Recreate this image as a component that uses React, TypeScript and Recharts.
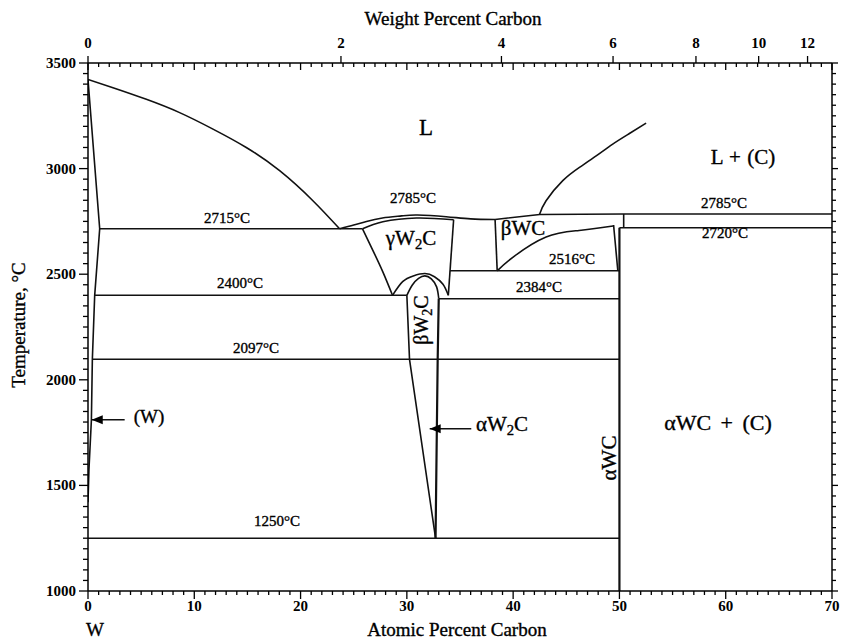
import React from 'react';
import { ComposedChart, Line, XAxis, YAxis } from 'recharts';

type Pt = { x: number; y: number };

const SERIF = '"Liberation Serif", "DejaVu Serif", serif';
const INK = '#111';

// x = atomic percent carbon, y = temperature in °C
const wLiquidus: Pt[] = [
  { x: 0, y: 3422 }, { x: 2.35, y: 3383 }, { x: 5.49, y: 3328 }, { x: 8.62, y: 3265 },
  { x: 11.76, y: 3187 }, { x: 14.89, y: 3100 }, { x: 18.03, y: 2990 }, { x: 21.16, y: 2848 },
  { x: 23.67, y: 2715 },
];
const wSolidus: Pt[] = [
  { x: 0, y: 3422 }, { x: 1.1, y: 2715 }, { x: 0.63, y: 2400 }, { x: 0.41, y: 2097 },
  { x: 0.32, y: 1811 }, { x: 0.09, y: 1575 }, { x: 0, y: 1420 },
];
const w2cLiquidus: Pt[] = [
  { x: 23.67, y: 2715 }, { x: 25, y: 2733 }, { x: 26.2, y: 2750 }, { x: 27.7, y: 2766 },
  { x: 29.5, y: 2776 }, { x: 31, y: 2780 }, { x: 33.7, y: 2772 }, { x: 36, y: 2762 },
  { x: 38.3, y: 2759 },
];
const wcTopLine: Pt[] = [
  { x: 38.3, y: 2759 }, { x: 42.5, y: 2783 }, { x: 50.4, y: 2785 }, { x: 70, y: 2785 },
];
const w2cSolidus: Pt[] = [
  { x: 25.83, y: 2715 }, { x: 27.74, y: 2748 }, { x: 30.9, y: 2766 }, { x: 34.4, y: 2758 },
];
const gammaLeft: Pt[] = [
  { x: 25.83, y: 2715 }, { x: 26.8, y: 2613 }, { x: 27.74, y: 2511 }, { x: 28.65, y: 2400 },
];
const gammaRight: Pt[] = [{ x: 34.4, y: 2758 }, { x: 33.9, y: 2400 }];
const betaArchOuter: Pt[] = [
  { x: 28.65, y: 2400 }, { x: 29.6, y: 2465 }, { x: 30.6, y: 2492 }, { x: 31.7, y: 2503 },
  { x: 32.6, y: 2488 }, { x: 33.4, y: 2452 }, { x: 33.9, y: 2400 },
];
const betaArchInner: Pt[] = [
  { x: 30.0, y: 2400 }, { x: 30.5, y: 2448 }, { x: 31.1, y: 2480 }, { x: 31.7, y: 2492 },
  { x: 32.3, y: 2478 }, { x: 32.8, y: 2440 }, { x: 33.0, y: 2385 },
];
const w2cLeft: Pt[] = [{ x: 30.0, y: 2400 }, { x: 30.25, y: 2097 }, { x: 32.7, y: 1250 }];
const w2cRight: Pt[] = [{ x: 33.0, y: 2385 }, { x: 32.9, y: 2097 }, { x: 32.7, y: 1250 }];
const betaWcLeft: Pt[] = [{ x: 38.3, y: 2759 }, { x: 38.5, y: 2516 }];
const betaWcLower: Pt[] = [
  { x: 38.5, y: 2516 }, { x: 40, y: 2581 }, { x: 43.1, y: 2676 }, { x: 46.2, y: 2707 },
  { x: 49.4, y: 2728 },
];
const betaWcRight: Pt[] = [{ x: 49.45, y: 2733 }, { x: 49.85, y: 2516 }];
const wcLine: Pt[] = [{ x: 50, y: 2720 }, { x: 50, y: 1000 }];
const wcStep: Pt[] = [{ x: 50.4, y: 2720 }, { x: 50.4, y: 2785 }];
const cLiquidus: Pt[] = [
  { x: 42.48, y: 2783 }, { x: 43.1, y: 2848 }, { x: 44.67, y: 2943 }, { x: 46.24, y: 3006 },
  { x: 47.81, y: 3060 }, { x: 49.37, y: 3116 }, { x: 50.94, y: 3166 }, { x: 52.51, y: 3215 },
];

// isotherms: temperature, start and end composition
const isoTemps = [2715, 2400, 2384, 2097, 1250, 2516, 2720];
const isoFrom = [1.1, 0.63, 33.0, 0.41, 0, 34.06, 50];
const isoTo = [25.83, 30.0, 50, 50, 50, 50, 70];

// arrows pointing at (W) and αW2C
const wArrow: Pt[] = [{ x: 3.45, y: 1811 }, { x: 0.35, y: 1811 }];
const w2cArrow: Pt[] = [{ x: 36.06, y: 1768 }, { x: 32.15, y: 1768 }];

// axes
const tempMajor = [1000, 1500, 2000, 2500, 3000, 3500];
const tempTicks = Array.from({ length: 51 }, (_, i) => 1000 + i * 50);
const atomicMajor = [0, 10, 20, 30, 40, 50, 60, 70];
const atomicTicks = Array.from({ length: 71 }, (_, i) => i);
const weightLabels = [0, 2, 4, 6, 8, 10, 12];
const weightAt = [0, 23.8, 38.9, 49.4, 57.2, 63.1, 67.7];
const topTicks = [...atomicTicks, ...weightAt.slice(1)].sort((a, b) => a - b);

const boundaries: { pts: Pt[]; curve: 'linear' | 'natural'; w?: number }[] = [
  { pts: wLiquidus, curve: 'natural' },
  { pts: wSolidus, curve: 'linear' },
  { pts: w2cLiquidus, curve: 'natural' },
  { pts: wcTopLine, curve: 'linear' },
  { pts: w2cSolidus, curve: 'natural' },
  { pts: gammaLeft, curve: 'natural' },
  { pts: gammaRight, curve: 'linear' },
  { pts: betaArchOuter, curve: 'natural' },
  { pts: betaArchInner, curve: 'natural' },
  { pts: w2cLeft, curve: 'linear' },
  { pts: w2cRight, curve: 'linear', w: 2.2 },
  { pts: betaWcLeft, curve: 'linear' },
  { pts: betaWcLower, curve: 'natural' },
  { pts: betaWcRight, curve: 'linear' },
  { pts: wcLine, curve: 'linear', w: 2.2 },
  { pts: wcStep, curve: 'linear' },
  { pts: cLiquidus, curve: 'natural' },
  ...isoTemps.map((t, i) => ({
    pts: [{ x: isoFrom[i], y: t }, { x: isoTo[i], y: t }],
    curve: 'linear' as const,
  })),
];

const tickText = {
  fontFamily: SERIF,
  fontSize: 15,
  fontWeight: 'bold' as const,
  fill: '#000',
};

const BottomTick = ({ x, y, payload }: any) => {
  const v = payload.value;
  const major = atomicMajor.includes(v);
  return (
    <g>
      <line x1={x} y1={y} x2={x} y2={y + (major ? 8 : 4)} stroke="#000" strokeWidth={1.3} />
      {major && <text x={x} y={y + 20} textAnchor="middle" {...tickText}>{v}</text>}
    </g>
  );
};

const TopTick = ({ x, y, payload }: any) => {
  const v = payload.value;
  const wi = weightAt.indexOf(v);
  const isAtomic = Number.isInteger(v);
  const major = atomicMajor.includes(v);
  return (
    <g>
      {isAtomic && (
        <line x1={x} y1={y} x2={x} y2={y + (major ? 7 : 4)} stroke="#000" strokeWidth={1.3} />
      )}
      {wi >= 0 && (
        <>
          <line x1={x} y1={y} x2={x} y2={y - 7} stroke="#000" strokeWidth={1.3} />
          <text x={x} y={y - 15} textAnchor="middle" {...tickText}>{weightLabels[wi]}</text>
        </>
      )}
    </g>
  );
};

const LeftTick = ({ x, y, payload }: any) => {
  const v = payload.value;
  const major = tempMajor.includes(v);
  return (
    <g>
      <line x1={x} y1={y} x2={x - (major ? 9 : 5)} y2={y} stroke="#000" strokeWidth={1.3} />
      {major && <text x={x - 12} y={y + 5} textAnchor="end" {...tickText}>{v}</text>}
    </g>
  );
};

const RightTick = ({ x, y, payload }: any) => {
  const major = tempMajor.includes(payload.value);
  return <line x1={x} y1={y} x2={x + (major ? 6 : 4)} y2={y} stroke="#000" strokeWidth={1.3} />;
};

const arrowHead = (props: any) => {
  const { cx, cy, index } = props;
  if (index !== 1) return <g key={`a${index}`} />;
  return <path key={`a${index}`} d={`M${cx},${cy} l11,-4.5 l0,9 z`} fill="#000" />;
};

const Lbl = ({ x, y, size = 15, rot = false, ws = 0, children }: any) => (
  <div
    style={{
      position: 'absolute',
      left: x,
      top: y,
      transform: `translate(-50%, -50%)${rot ? ' rotate(-90deg)' : ''}`,
      fontFamily: SERIF,
      fontSize: size,
      lineHeight: 1,
      whiteSpace: 'nowrap',
      wordSpacing: ws,
      color: '#000',
      WebkitTextStroke: '0.35px #000',
    }}
  >
    {children}
  </div>
);

const sub = { fontSize: '0.7em', verticalAlign: '-0.25em' };

export default function App() {
  return (
    <div style={{ position: 'fixed', left: 0, top: 0, width: 841, height: 641, background: '#fff' }}>
      <ComposedChart width={841} height={641} margin={{ top: 0, right: 0, bottom: 0, left: 0 }}>
        <XAxis
          xAxisId="bottom"
          type="number"
          dataKey="x"
          domain={[0, 70]}
          allowDataOverflow
          ticks={atomicTicks}
          interval={0}
          height={50}
          tickSize={0}
          tickMargin={0}
          tick={BottomTick}
          axisLine={{ stroke: '#000', strokeWidth: 1.5 }}
        />
        <XAxis
          xAxisId="top"
          orientation="top"
          type="number"
          dataKey="x"
          domain={[0, 70]}
          allowDataOverflow
          ticks={topTicks}
          interval={0}
          height={63}
          tickSize={0}
          tickMargin={0}
          tick={TopTick}
          axisLine={{ stroke: '#000', strokeWidth: 1.5 }}
        />
        <YAxis
          yAxisId="left"
          type="number"
          domain={[1000, 3500]}
          allowDataOverflow
          ticks={tempTicks}
          interval={0}
          width={88}
          tickSize={0}
          tickMargin={0}
          tick={LeftTick}
          axisLine={{ stroke: '#000', strokeWidth: 1.5 }}
        />
        <YAxis
          yAxisId="right"
          orientation="right"
          type="number"
          domain={[1000, 3500]}
          allowDataOverflow
          ticks={tempTicks}
          interval={0}
          width={9}
          tickSize={0}
          tickMargin={0}
          tick={RightTick}
          axisLine={{ stroke: '#000', strokeWidth: 1.5 }}
        />
        {boundaries.map((b, i) => (
          <Line
            key={`b${i}`}
            xAxisId="bottom"
            yAxisId="left"
            data={b.pts}
            dataKey="y"
            type={b.curve}
            stroke={INK}
            strokeWidth={b.w ?? 1.6}
            dot={false}
            activeDot={false}
            isAnimationActive={false}
          />
        ))}
        {[wArrow, w2cArrow].map((a, i) => (
          <Line
            key={`arrow${i}`}
            xAxisId="bottom"
            yAxisId="left"
            data={a}
            dataKey="y"
            type="linear"
            stroke={INK}
            strokeWidth={1.6}
            dot={arrowHead}
            activeDot={false}
            isAnimationActive={false}
          />
        ))}
      </ComposedChart>

      <Lbl x={453} y={18} size={19}>Weight Percent Carbon</Lbl>
      <Lbl x={18} y={325} size={19} rot>Temperature, °C</Lbl>
      <Lbl x={95} y={629} size={19}>W</Lbl>
      <Lbl x={457} y={629} size={19}>Atomic Percent Carbon</Lbl>

      <Lbl x={426} y={127} size={23}>L</Lbl>
      <Lbl x={743} y={157} size={21} ws={1}>L + (C)</Lbl>
      <Lbl x={413} y={198}>2785°C</Lbl>
      <Lbl x={227} y={218}>2715°C</Lbl>
      <Lbl x={411} y={240} size={21}>γW<span style={sub}>2</span>C</Lbl>
      <Lbl x={523} y={228} size={21}>βWC</Lbl>
      <Lbl x={572} y={259}>2516°C</Lbl>
      <Lbl x={724} y={203}>2785°C</Lbl>
      <Lbl x={725} y={233}>2720°C</Lbl>
      <Lbl x={240} y={283}>2400°C</Lbl>
      <Lbl x={539} y={287}>2384°C</Lbl>
      <Lbl x={423} y={320} size={20} rot>βW<span style={sub}>2</span>C</Lbl>
      <Lbl x={256} y={348}>2097°C</Lbl>
      <Lbl x={149} y={416} size={19}>(W)</Lbl>
      <Lbl x={502} y={426} size={21}>αW<span style={sub}>2</span>C</Lbl>
      <Lbl x={609} y={458} size={21} rot>αWC</Lbl>
      <Lbl x={718} y={423} size={22} ws={4}>αWC + (C)</Lbl>
      <Lbl x={277} y={521}>1250°C</Lbl>
    </div>
  );
}
